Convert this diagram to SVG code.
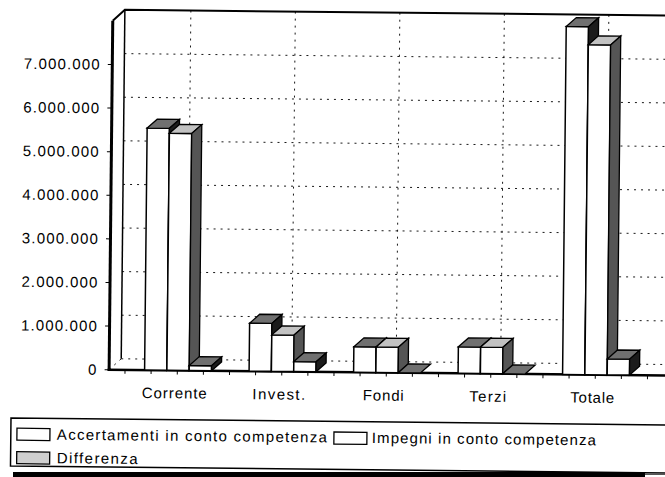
<svg xmlns="http://www.w3.org/2000/svg" width="665" height="477" viewBox="0 0 665 477">
<style>
text{font-family:"Liberation Sans",Arial,sans-serif;font-size:15px;fill:#000}
.lbl{letter-spacing:1.15px}
.ax{stroke:#000;fill:none}
.grid{stroke:#000;stroke-width:0.9;stroke-dasharray:2 5;fill:none}
.front{fill:#fff;stroke:#000;stroke-width:1.5;stroke-linejoin:miter}
.topd{fill:#707070;stroke:#000;stroke-width:1.3}
.topl{fill:#c2c2c2;stroke:#000;stroke-width:1.3}
.sideb{fill:#1c1c1c;stroke:#000;stroke-width:1.3}
.sided{fill:#555;stroke:#000;stroke-width:1.3}
.tick{stroke:#000;stroke-width:1}
.sw{fill:#fff;stroke:#000;stroke-width:1.3}
</style>
<rect width="665" height="477" fill="#fff"/>
<g transform="rotate(0.6 332 238)">
  <g id="grid">
    <path class="grid" d="M122.5,317.4H680M122.5,273.8H680M122.5,230.2H680M122.5,186.6H680M122.5,143H680M122.5,99.4H680M122.5,55.8H680"/>
    <path class="grid" d="M188.5,12V361M293,12V361M397.5,12V361M502,12V361M606.5,12V361"/>
    <path class="grid" d="M122.5,361H680M110.5,372L122.5,361"/>
  </g>
  <g id="axes">
    <path class="ax" stroke-width="1.5" d="M122.5,361V12"/>
    <path class="ax" stroke-width="2" d="M110.5,23L122.5,12H680"/>
    <path class="ax" stroke-width="3" d="M110.5,23V373"/>
    <path class="ax" stroke-width="2.5" d="M109,372H680"/>
    <path class="tick" d="M106,372H110.5M106,328.4H110.5M106,284.8H110.5M106,241.2H110.5M106,197.6H110.5M106,154H110.5M106,110.4H110.5M106,66.8H110.5"/>
    <path class="tick" d="M126.4,372V376M152.5,372V376M178.7,372V376M204.8,372V376M230.9,372V376M257,372V376M283.2,372V376M309.3,372V376M335.4,372V376M361.5,372V376M387.7,372V376M413.8,372V376M439.9,372V376M466,372V376M492.2,372V376M518.3,372V376M544.4,372V376M570.5,372V376M596.7,372V376M622.8,372V376M648.9,372V376"/>
  </g>
  <g id="y-labels" text-anchor="end">
    <text class="lbl" x="99" y="377.3">0</text>
    <text class="lbl" x="99" y="333.7">1.000.000</text>
    <text class="lbl" x="99" y="290.1">2.000.000</text>
    <text class="lbl" x="99" y="246.5">3.000.000</text>
    <text class="lbl" x="99" y="202.9">4.000.000</text>
    <text class="lbl" x="99" y="159.3">5.000.000</text>
    <text class="lbl" x="99" y="115.7">6.000.000</text>
    <text class="lbl" x="99" y="72.1">7.000.000</text>
  </g>
  <g id="cat-corrente">
    <rect class="front" x="146" y="130" width="22.3" height="242"/>
    <polygon class="topd" points="146,130 156,121 178.3,121 168.3,130"/>
    <polygon class="sideb" points="168.3,130 178.3,121 178.3,363 168.3,372"/>
    <rect class="front" x="168.3" y="135" width="22.3" height="237"/>
    <polygon class="topl" points="168.3,135 178.3,126 200.6,126 190.6,135"/>
    <polygon class="sided" points="190.6,135 200.6,126 200.6,363 190.6,372"/>
    <rect class="front" x="190.6" y="367" width="22.3" height="5"/>
    <polygon class="topd" points="190.6,367 200.6,358 222.9,358 212.9,367"/>
    <polygon class="sideb" points="212.9,367 222.9,358 222.9,363 212.9,372"/>
    <text class="lbl" x="176.5" y="400" text-anchor="middle" textLength="66" lengthAdjust="spacing">Corrente</text>
  </g>
  <g id="cat-invest">
    <rect class="front" x="250.5" y="324" width="22.3" height="48"/>
    <polygon class="topd" points="250.5,324 260.5,315 282.8,315 272.8,324"/>
    <polygon class="sideb" points="272.8,324 282.8,315 282.8,363 272.8,372"/>
    <rect class="front" x="272.8" y="335.5" width="22.3" height="36.5"/>
    <polygon class="topl" points="272.8,335.5 282.8,326.5 305.1,326.5 295.1,335.5"/>
    <polygon class="sided" points="295.1,335.5 305.1,326.5 305.1,363 295.1,372"/>
    <rect class="front" x="295.1" y="362" width="22.3" height="10"/>
    <polygon class="topd" points="295.1,362 305.1,353 327.4,353 317.4,362"/>
    <polygon class="sideb" points="317.4,362 327.4,353 327.4,363 317.4,372"/>
    <text class="lbl" x="281" y="400" text-anchor="middle" textLength="54" lengthAdjust="spacing">Invest.</text>
  </g>
  <g id="cat-fondi">
    <rect class="front" x="355" y="346.5" width="22.3" height="25.5"/>
    <polygon class="topd" points="355,346.5 365,337.5 387.3,337.5 377.3,346.5"/>
    <polygon class="sideb" points="377.3,346.5 387.3,337.5 387.3,363 377.3,372"/>
    <rect class="front" x="377.3" y="346.5" width="22.3" height="25.5"/>
    <polygon class="topl" points="377.3,346.5 387.3,337.5 409.6,337.5 399.6,346.5"/>
    <polygon class="sided" points="399.6,346.5 409.6,337.5 409.6,363 399.6,372"/>
    <polygon class="topd" points="399.6,372 409.6,363 431.9,363 421.9,372"/>
    <text class="lbl" x="385.5" y="400" text-anchor="middle" textLength="42" lengthAdjust="spacing">Fondi</text>
  </g>
  <g id="cat-terzi">
    <rect class="front" x="459.5" y="345.5" width="22.3" height="26.5"/>
    <polygon class="topd" points="459.5,345.5 469.5,336.5 491.8,336.5 481.8,345.5"/>
    <polygon class="sideb" points="481.8,345.5 491.8,336.5 491.8,363 481.8,372"/>
    <rect class="front" x="481.8" y="345.5" width="22.3" height="26.5"/>
    <polygon class="topl" points="481.8,345.5 491.8,336.5 514.1,336.5 504.1,345.5"/>
    <polygon class="sided" points="504.1,345.5 514.1,336.5 514.1,363 504.1,372"/>
    <polygon class="topd" points="504.1,372 514.1,363 536.4,363 526.4,372"/>
    <text class="lbl" x="490" y="400" text-anchor="middle" textLength="38" lengthAdjust="spacing">Terzi</text>
  </g>
  <g id="cat-totale">
    <rect class="front" x="564" y="24" width="22.3" height="348"/>
    <polygon class="topd" points="564,24 574,15 596.3,15 586.3,24"/>
    <polygon class="sideb" points="586.3,24 596.3,15 596.3,363 586.3,372"/>
    <rect class="front" x="586.3" y="42" width="22.3" height="330"/>
    <polygon class="topl" points="586.3,42 596.3,33 618.6,33 608.6,42"/>
    <polygon class="sided" points="608.6,42 618.6,33 618.6,363 608.6,372"/>
    <rect class="front" x="608.6" y="356" width="22.3" height="16"/>
    <polygon class="topd" points="608.6,356 618.6,347 640.9,347 630.9,356"/>
    <polygon class="sideb" points="630.9,356 640.9,347 640.9,363 630.9,372"/>
    <text class="lbl" x="594.5" y="400" text-anchor="middle" textLength="45" lengthAdjust="spacing">Totale</text>
  </g>
  <g id="legend">
    <path class="ax" stroke-width="1.5" d="M680,421.4H12.9V469.4H680"/>
    <rect class="sw" x="19" y="431.5" width="33" height="12"/>
    <text x="59" y="442.5" textLength="270" lengthAdjust="spacing">Accertamenti in conto competenza</text>
    <rect class="sw" x="336" y="432" width="33" height="12"/>
    <text x="374" y="442.5" textLength="224" lengthAdjust="spacing">Impegni in conto competenza</text>
    <rect class="sw" x="19" y="455" width="33" height="12" fill="#cfcfcf" style="fill:#cfcfcf"/>
    <text x="59" y="466" textLength="81" lengthAdjust="spacing">Differenza</text>
  </g>
</g>
<g id="legend-shadow">
  <rect x="13" y="472" width="632" height="5" fill="#000"/>
  <rect x="645" y="473.5" width="20" height="1.5" fill="#555"/>
</g>
</svg>
